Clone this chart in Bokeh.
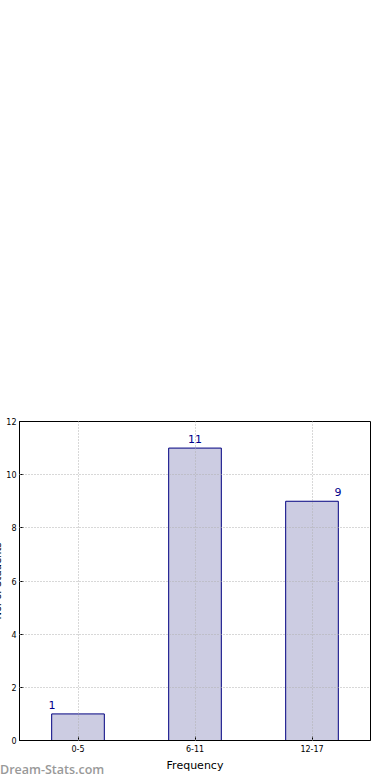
from bokeh.plotting import figure
from bokeh.models import ColumnDataSource, FactorRange, Range1d, FixedTicker, Div
from bokeh.layouts import column
from bokeh.core.properties import value
from bokeh.embed import file_html
from bokeh.resources import INLINE

categories = ["0-5", "6-11", "12-17"]
counts = [1, 11, 9]
label_texts = ["1", "11", "9"]
label_x_offsets = [-26, 0, 26]
y_ticks = [0, 2, 4, 6, 8, 10, 12]

FONT = "DejaVu Sans"
SHIFT = 21  # part of the canvas hidden beyond the left edge of the window

src = ColumnDataSource(dict(cat=categories, cnt=counts, lab=label_texts, xo=label_x_offsets))

p = figure(
    x_range=FactorRange(*categories, range_padding=0),
    y_range=Range1d(0, 12),
    width=390 + SHIFT, height=780,
    output_backend="svg", toolbar_location=None,
    min_border_left=19 + SHIFT, min_border_right=20, min_border_top=421, min_border_bottom=40,
    styles={"position": "relative", "left": f"-{SHIFT}px"},
)
p.background_fill_color = "white"
p.border_fill_color = "white"
p.outline_line_color = "black"
p.outline_line_width = 1

p.vbar(x="cat", top="cnt", width=0.45, source=src,
       fill_color="#ccccE2", line_color="#000080", line_width=1)

p.text(x="cat", y="cnt", text="lab", x_offset="xo", y_offset=-5, source=src,
       text_align="center", text_baseline="bottom",
       text_font=value(FONT), text_font_size="11px", text_color="#00008B")

for g in (p.xgrid, p.ygrid):
    g.grid_line_color = "#b0b0b0"
    g.grid_line_dash = "1 2"
    g.grid_line_width = 1
    g.level = "annotation"

p.yaxis.ticker = FixedTicker(ticks=y_ticks)
for ax in (p.xaxis, p.yaxis):
    ax.axis_line_color = "black"
    ax.major_tick_in = 4
    ax.major_tick_out = 0
    ax.minor_tick_line_color = None
    ax.major_tick_line_color = "black"
    ax.major_label_text_font = FONT
    ax.major_label_text_font_size = "8px"
    ax.major_label_text_color = "black"
    ax.axis_label_text_font = FONT
    ax.axis_label_text_font_style = "normal"
    ax.axis_label_text_color = "black"
p.yaxis.major_label_standoff = 3
p.yaxis.axis_label = "No. of Students"
p.yaxis.axis_label_text_font_size = "10px"
p.yaxis.axis_label_standoff = 0
p.xaxis.major_label_standoff = 4
p.xaxis.axis_label = "Frequency"
p.xaxis.axis_label_text_font_size = "11px"
p.xaxis.axis_label_standoff = 4

wm = Div(
    text="Dream-Stats.com",
    margin=0,
    styles={
        "position": "absolute", "left": "0px", "top": "762px",
        "font-family": "Open Sans", "font-size": "12.5px", "font-weight": "600",
        "color": "#999999", "white-space": "nowrap", "line-height": "16px",
    },
)

layout = column(p, wm)
open("out.html", "w").write(file_html(layout, INLINE))
